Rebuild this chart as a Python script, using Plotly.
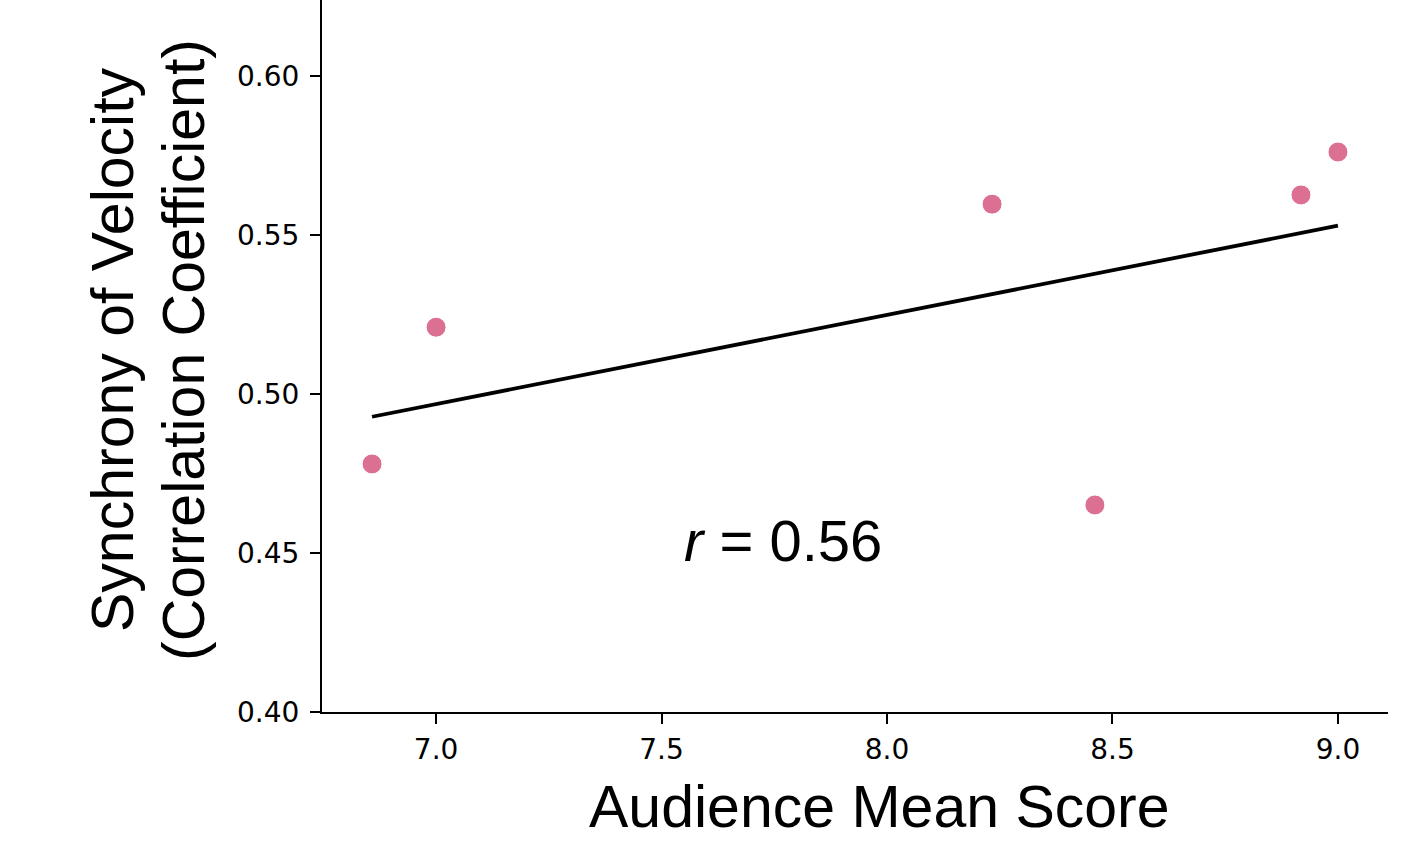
import numpy as np
import plotly.graph_objects as go

audience_score = [6.858, 7.0, 8.233, 8.461, 8.918, 9.0]
synchrony = [0.478, 0.521, 0.5597, 0.4651, 0.5626, 0.5761]
x_ticks = [7.0, 7.5, 8.0, 8.5, 9.0]
y_ticks = [0.40, 0.45, 0.50, 0.55, 0.60]
r_label = "<i>r</i> = 0.56"

W, H = 1428, 850
L, R, T, B = 322, 40, 0, 138
pw, ph = W - L - R, H - T - B

def px(xp):
    return (xp - L) / pw

def py(yp):
    return (H - B - yp) / ph

slope, intercept = np.polyfit(audience_score, synchrony, 1)
xl = np.array([min(audience_score), max(audience_score)])
yl = slope * xl + intercept

fig = go.Figure()
fig.add_trace(go.Scatter(x=xl, y=yl, mode="lines",
                         line=dict(color="black", width=3.8), showlegend=False))
fig.add_trace(go.Scatter(x=audience_score, y=synchrony, mode="markers",
                         marker=dict(color="#DB7093", size=20,
                                     line=dict(color="white", width=1)),
                         showlegend=False))

tickfont = dict(family="DejaVu Sans", size=28, color="black")
fig.update_xaxes(range=[6.747, 9.111], tickvals=x_ticks,
                 ticktext=[f"{v:.1f}" for v in x_ticks],
                 showgrid=False, zeroline=False, showline=True, linecolor="black",
                 linewidth=2, ticks="outside", ticklen=10, tickwidth=2,
                 tickcolor="black", tickfont=tickfont, ticklabelstandoff=1)
fig.update_yaxes(range=[0.40, 0.40 + 712 / 3180], tickvals=y_ticks,
                 ticktext=[f"{v:.2f}" for v in y_ticks],
                 showgrid=False, zeroline=False, showline=True, linecolor="black",
                 linewidth=2, ticks="outside", ticklen=10, tickwidth=2,
                 tickcolor="black", tickfont=tickfont, ticklabelstandoff=5)

titlefont = dict(family="Liberation Sans", size=59, color="black")
fig.add_annotation(text="Audience Mean Score", xref="paper", yref="paper",
                   x=px(879), y=py(807), xanchor="center", yanchor="middle",
                   showarrow=False, font=titlefont)
fig.add_annotation(text="Synchrony of Velocity", xref="paper", yref="paper",
                   x=px(113), y=py(350), xanchor="center", yanchor="middle",
                   textangle=-90, showarrow=False, font=titlefont)
fig.add_annotation(text="(Correlation Coefficient)", xref="paper", yref="paper",
                   x=px(184), y=py(350), xanchor="center", yanchor="middle",
                   textangle=-90, showarrow=False, font=titlefont)
fig.add_annotation(text=r_label, xref="x", yref="y",
                   x=7.545, y=0.40 + (712 - 540) / 3180, xanchor="left", yanchor="middle",
                   showarrow=False, font=dict(family="Liberation Sans", size=58, color="black"))

fig.update_layout(width=W, height=H, margin=dict(l=L, r=R, t=T, b=B),
                  plot_bgcolor="white", paper_bgcolor="white")
fig.write_html("out.html", config={"displayModeBar": False},
               post_script="document.body.style.margin='0';document.body.style.padding='0';")
